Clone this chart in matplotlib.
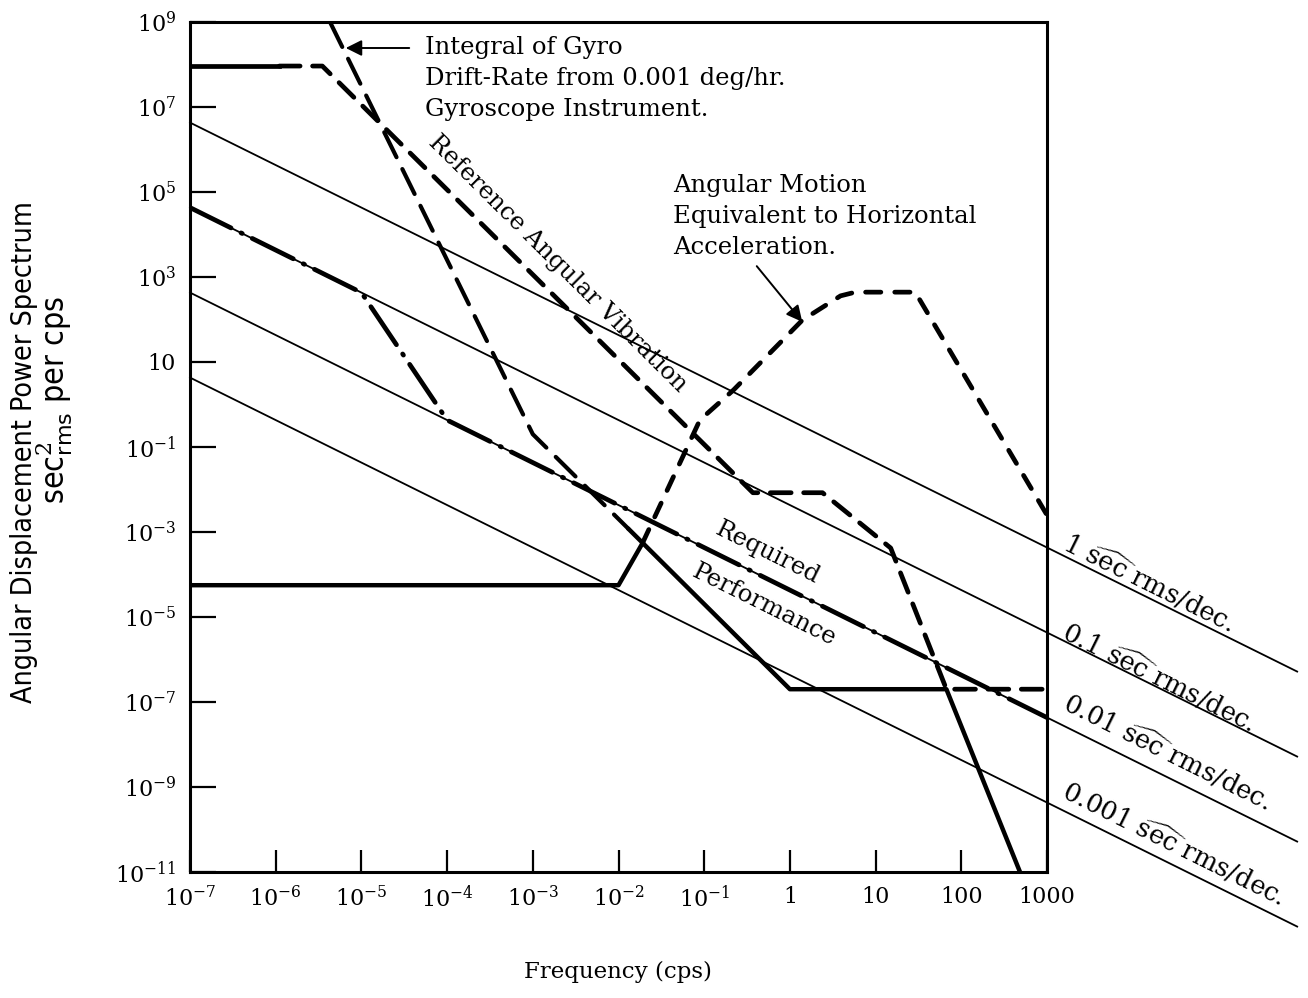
import math
import matplotlib
matplotlib.use("Agg")
import matplotlib.pyplot as plt
from matplotlib.ticker import FixedLocator, FuncFormatter, NullLocator

plt.rcParams['font.family'] = 'DejaVu Serif'
plt.rcParams['mathtext.fontset'] = 'dejavuserif'
plt.rcParams['lines.scale_dashes'] = False

# constant rms-per-decade guide lines (values read at the left edge and at the far right end)
rms_names = ['1', '0.1', '0.01', '0.001']
rms_f = [1e-7, 8.3e5]
rms_s = [[4.3e6, 5.2e-7], [4.3e4, 5.2e-9], [4.3e2, 5.2e-11], [4.3, 5.2e-13]]

# reference angular vibration (solid start, then heavy dashes)
ref0_f = [1e-7, 1.1e-6]
ref0_s = [9.2e7, 9.2e7]
ref_f = [1.1e-6, 3.5e-6, 0.37, 2.4, 15, 67, 1000]
ref_s = [9.2e7, 9.2e7, 8.4e-3, 8.4e-3, 4.2e-4, 2e-7, 2e-7]

# integral of gyro drift rate (dashed upper part, solid lower part)
gyro_f = [4.3e-6, 1e-3, 1.3e-2]
gyro_s = [1e9, 0.2, 1.2e-3]
gyro2_f = [1.3e-2, 1, 67, 484]
gyro2_s = [1.2e-3, 2e-7, 2e-7, 1e-11]

# angular motion equivalent to horizontal acceleration
acc_flat_f = [1e-7, 1e-2, 1.9e-2]
acc_flat_s = [5.6e-5, 5.6e-5, 5.4e-4]
acc_f = [1.9e-2, 0.089, 0.22, 1.4, 3.9, 5.8, 29, 1000]
acc_s = [5.4e-4, 0.43, 2.2, 97, 360, 440, 440, 2.5e-3]

# required performance
req_f = [1e-7, 1e-5, 1e-4, 1e3]
req_s = [4.3e4, 4.3e2, 0.43, 4.3e-8]

W, H = 1308, 998
fig = plt.figure(figsize=(W / 100, H / 100), dpi=100)
ax = fig.add_axes([190 / W, 1 - 872 / H, 857 / W, 850 / H])
ax.set_xscale('log')
ax.set_yscale('log')
ax.set_xlim(1e-7, 1e3)
ax.set_ylim(1e-11, 1e9)

def px(x, y):
    return (x / W, 1 - y / H)

# thin guide lines run past the right edge of the box
for s in rms_s:
    ax.plot(rms_f, s, color='black', lw=1.3, clip_on=False)

ax.plot(ref0_f, ref0_s, color='black', lw=3.4)
ax.plot(ref_f, ref_s, color='black', lw=3.4, dashes=(15, 9), dash_capstyle='round')
ax.plot(gyro_f, gyro_s, color='black', lw=3.0, dashes=(20, 9.5), dash_capstyle='round')
ax.plot(gyro2_f, gyro2_s, color='black', lw=3.2, solid_capstyle='round')
ax.plot(acc_flat_f, acc_flat_s, color='black', lw=3.2)
ax.plot(acc_f, acc_s, color='black', lw=3.4, dashes=(11, 10), dash_capstyle='round')
ax.plot(req_f, req_s, color='black', lw=3.4, dashes=(33, 8, 1, 8), dash_capstyle='round')

# axes, ticks
for sp in ax.spines.values():
    sp.set_linewidth(2.2)
ax.xaxis.set_major_locator(FixedLocator([10.0 ** k for k in range(-7, 4)]))
ax.yaxis.set_major_locator(FixedLocator([10.0 ** k for k in range(-11, 10, 2)]))
ax.xaxis.set_minor_locator(NullLocator())
ax.yaxis.set_minor_locator(NullLocator())

def xfmt(v, pos):
    k = int(round(math.log10(v)))
    if k >= 0:
        return str(int(round(v)))
    return r'$10^{%d}$' % k

def yfmt(v, pos):
    k = int(round(math.log10(v)))
    if k == 1:
        return '10'
    return r'$10^{%d}$' % k

ax.xaxis.set_major_formatter(FuncFormatter(xfmt))
ax.yaxis.set_major_formatter(FuncFormatter(yfmt))
ax.tick_params(axis='x', direction='in', length=16, width=1.6, labelsize=16, pad=10)
ax.tick_params(axis='y', direction='in', length=19, width=1.6, labelsize=16, pad=10)

# annotations
fs = 17.5
fig.text(*px(425, 36), 'Integral of Gyro\nDrift-Rate from 0.001 deg/hr.\nGyroscope Instrument.',
         ha='left', va='top', fontsize=fs, linespacing=1.45)
ax.annotate('', xy=px(343, 48), xycoords='figure fraction', xytext=px(412, 48),
            textcoords='figure fraction',
            arrowprops=dict(arrowstyle='-|>', lw=1.4, color='black', mutation_scale=24))

fig.text(*px(673, 174), 'Angular Motion\nEquivalent to Horizontal\nAcceleration.',
         ha='left', va='top', fontsize=fs, linespacing=1.45)
ax.annotate('', xy=px(804, 324), xycoords='figure fraction', xytext=px(755, 264),
            textcoords='figure fraction',
            arrowprops=dict(arrowstyle='-|>', lw=1.4, color='black', mutation_scale=24))

fig.text(*px(558, 264), 'Reference Angular Vibration', ha='center', va='center',
         rotation=-44.8, rotation_mode='anchor', fontsize=fs)
fig.text(*px(767, 553), 'Required', ha='center', va='center',
         rotation=-26.4, rotation_mode='anchor', fontsize=fs)
fig.text(*px(764, 605), 'Performance', ha='center', va='center',
         rotation=-26.4, rotation_mode='anchor', fontsize=fs)

label_pos = [(1149, 583), (1159, 677), (1168, 752), (1174, 843)]
for name, (x, y) in zip(rms_names, label_pos):
    fig.text(*px(x, y), name + r' $\widehat{\mathrm{sec}}$ rms/dec.', ha='center', va='center',
             rotation=-26.4, rotation_mode='anchor', fontsize=18.5)

fig.text(*px(618, 972), 'Frequency (cps)', ha='center', va='center', fontsize=16.5)
fig.text(*px(24, 452), 'Angular Displacement Power Spectrum', ha='center', va='center',
         rotation=90, fontsize=20.5, family=['DejaVu Sans'], fontstretch='condensed')
fig.text(*px(55, 400), r'sec$^{2}_{\mathsf{rms}}$ per cps', ha='center', va='center',
         rotation=90, fontsize=23, family=['DejaVu Sans'], fontstretch='condensed')

fig.savefig('out.png', dpi=100)
